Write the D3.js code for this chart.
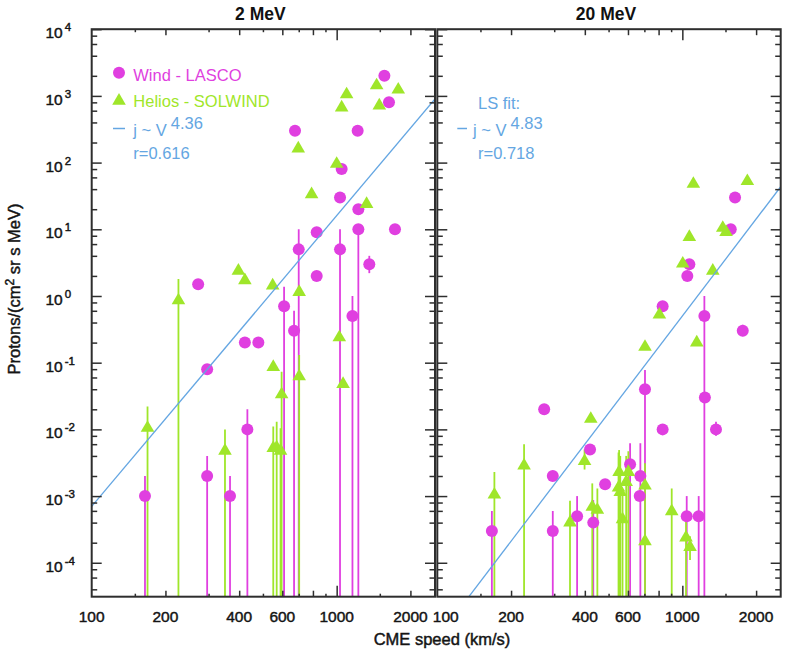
<!DOCTYPE html>
<html><head><meta charset="utf-8">
<script src="https://cdn.jsdelivr.net/npm/d3@7"></script>
<style>
body{margin:0;background:#fff}
svg{display:block}
text{font-family:"Liberation Sans",Arial,Helvetica,sans-serif;}
.blk{fill:#141414;stroke:#141414;stroke-width:0.45px;}
</style>
</head><body>
<svg id="chart" width="786" height="654"></svg>
<script>
// ---------------- DATA ----------------
const panelTitles = ["2 MeV", "20 MeV"];
const BOTTOM = 1e-6; // error bar extends below the plot floor

// 2 MeV, Wind - LASCO (circles)
const windV_2  = [165, 296, 367, 432, 296, 272, 422, 479, 610, 670, 676, 700, 829, 829, 1032, 1032, 1048, 1160, 1218, 1226, 1226, 1359, 1566, 1635, 1730];
const windJ_2  = [1e-3, 2e-3, 1e-3, 0.01, 0.08, 1.5, 0.2, 0.2, 0.7, 0.3, 300, 5, 9, 2, 5, 30, 80, 0.5, 300, 20, 10, 3, 2000, 800, 10];
const windLo_2 = [BOTTOM, BOTTOM, BOTTOM, BOTTOM, null, null, null, null, BOTTOM, BOTTOM, null, BOTTOM, null, null, BOTTOM, null, null, BOTTOM, null, null, BOTTOM, 2.2, null, null, null];
const windHi_2 = [2e-3, 4e-3, 2e-3, 0.02, null, null, null, null, 1.38, 0.6, null, 10, null, null, 10, null, null, 1.0, null, null, 10, 4, null, null, null];

// 2 MeV, Helios - SOLWIND (triangles)
const helV_2  = [169, 226, 350, 397, 422, 548, 551, 551, 569, 590, 596, 697, 703, 703, 790, 1000, 1025, 1048, 1062, 1098, 1325, 1456, 1493, 1784];
const helJ_2  = [0.011, 0.9, 0.005, 2.5, 1.8, 1.5, 0.09, 0.0055, 0.0056, 0.005, 0.035, 170, 1.2, 0.065, 35, 100, 0.25, 700, 0.05, 1100, 25, 1500, 750, 1300];
const helLo_2 = [BOTTOM, BOTTOM, BOTTOM, null, null, null, null, BOTTOM, BOTTOM, BOTTOM, BOTTOM, null, null, BOTTOM, null, null, null, null, null, null, null, null, null, null];
const helHi_2 = [0.022, 1.8, 0.01, null, null, null, null, 0.011, 0.013, 0.0104, 0.073, null, null, 0.13, null, null, null, null, null, null, null, null, null, null];

// 20 MeV, Wind - LASCO (circles)
const windV_20  = [167, 273, 296, 296, 372, 420, 433, 484, 612, 674, 670, 704, 831, 831, 1042, 1048, 1068, 1166, 1230, 1236, 1372, 1576, 1641, 1764];
const windJ_20  = [3e-4, 0.02, 0.002, 3e-4, 5e-4, 0.005, 4e-4, 0.0015, 0.003, 0.002, 0.001, 0.04, 0.7, 0.01, 5e-4, 2, 3, 5e-4, 0.5, 0.03, 0.01, 10, 30, 0.3];
const windLo_20 = [BOTTOM, null, null, BOTTOM, BOTTOM, null, BOTTOM, null, BOTTOM, BOTTOM, null, BOTTOM, null, null, BOTTOM, null, null, BOTTOM, BOTTOM, null, 0.008, null, null, 0.25];
const windHi_20 = [6e-4, null, null, 6e-4, 1e-3, null, 8.7e-4, null, 0.0062, 0.0062, null, 0.078, null, null, 1e-3, null, null, 1e-3, 1.0, null, 0.013, null, null, 0.37];

// 20 MeV, Helios - SOLWIND (triangles)
const helV_20  = [171, 226, 348, 399, 423, 429, 450, 549, 552, 558, 570, 590, 602, 704, 704, 704, 806, 905, 1004, 1035, 1068, 1075, 1109, 1145, 1331, 1462, 1508, 1842];
const helJ_20  = [0.0011, 0.003, 4.2e-4, 0.0035, 0.015, 7.2e-4, 6.5e-4, 0.0014, 0.0024, 0.0012, 4.7e-4, 0.0017, 0.0024, 0.0015, 2.2e-4, 0.18, 0.55, 6.2e-4, 3.2, 2.5e-4, 8, 1.8e-4, 50, 0.21, 2.5, 11, 9.5, 55];
const helLo_20 = [BOTTOM, BOTTOM, BOTTOM, 0.0025, null, BOTTOM, BOTTOM, BOTTOM, BOTTOM, BOTTOM, BOTTOM, BOTTOM, BOTTOM, BOTTOM, null, null, null, BOTTOM, null, BOTTOM, null, 1.1e-4, null, null, null, null, null, null];
const helHi_20 = [0.0023, 0.006, 8.5e-4, 0.005, null, 1.55e-3, 1.3e-3, 0.0045, 0.0049, 0.004, 0.0012, 0.004, 0.0047, 0.0031, null, null, null, 1.3e-3, null, 4.9e-4, null, 2.5e-4, null, null, null, null, null, null];

// Least-squares fits j = amp * (V/100)^exp
const fitAmp = [7.0e-4, 7.4e-6];
const fitExp = [4.36, 4.83];
const fitR   = ["0.616", "0.718"];

// Axis ticks
const xDomain = [100, 2520];
const yDomain = [3.1e-5, 1e4];
const xLabelTicks = [100, 200, 400, 600, 1000, 2000];
const xShortTicks = [150, 300, 500, 700, 900, 1500];
const xMediumTicks = [200, 400, 600, 800, 2000];
const xLongTicks = [1000];
const yExponents = [-4, -3, -2, -1, 0, 1, 2, 3, 4];
const yMinorMult = [2, 4, 6, 8];

// ---------------- STYLE / LAYOUT ----------------
const MAG = "#e03fe0", GRN = "#9fe62a", BLU = "#64a6e2", AX = "#2e2e2e";
const Y0 = 29.2, Y1 = 596.7;
const panelX = [[91.7, 435], [437.3, 780.7]];

const svg = d3.select("#chart");
const defs = svg.append("defs");

const panels = [
  {wind: [windV_2, windJ_2, windLo_2, windHi_2], hel: [helV_2, helJ_2, helLo_2, helHi_2]},
  {wind: [windV_20, windJ_20, windLo_20, windHi_20], hel: [helV_20, helJ_20, helLo_20, helHi_20]}
];

const y = d3.scaleLog().domain(yDomain).range([Y1, Y0]);
const yMajor = yExponents.map(e => Math.pow(10, e));
const yMinor = [];
for (let e = -5; e <= 3; e++) yMinorMult.forEach(m => { const v = m * Math.pow(10, e); if (v > yDomain[0] && v < yDomain[1]) yMinor.push(v); });

const triPath = "M0,-6.4L6.8,5.2L-6.8,5.2Z";

panels.forEach((p, pi) => {
  const [x0, x1] = panelX[pi];
  const x = d3.scaleLog().domain(xDomain).range([x0, x1]);
  const g = svg.append("g");

  defs.append("clipPath").attr("id", "clip" + pi)
    .append("rect").attr("x", x0).attr("y", Y0).attr("width", x1 - x0).attr("height", Y1 - Y0);

  const plot = g.append("g").attr("clip-path", `url(#clip${pi})`);

  // error bars
  function errBars(arr, color) {
    const [V, J, Lo, Hi] = arr;
    const idx = d3.range(V.length).filter(i => Lo[i] !== null || Hi[i] !== null);
    plot.append("g").selectAll("line").data(idx).join("line")
      .attr("x1", i => x(V[i])).attr("x2", i => x(V[i]))
      .attr("y1", i => y(Hi[i] !== null ? Hi[i] : J[i]))
      .attr("y2", i => y(Lo[i] !== null ? Lo[i] : J[i]))
      .attr("stroke", color).attr("stroke-width", 1.8);
  }
  errBars(p.wind, MAG);
  errBars(p.hel, GRN);

  // markers
  plot.append("g").selectAll("circle").data(d3.range(p.wind[0].length)).join("circle")
    .attr("cx", i => x(p.wind[0][i])).attr("cy", i => y(p.wind[1][i]))
    .attr("r", 6).attr("fill", MAG);
  plot.append("g").selectAll("path").data(d3.range(p.hel[0].length)).join("path")
    .attr("d", triPath)
    .attr("transform", i => `translate(${x(p.hel[0][i])},${y(p.hel[1][i])})`)
    .attr("fill", GRN);

  // fit line
  const fitV = xDomain;
  const line = d3.line().x(v => x(v)).y(v => y(fitAmp[pi] * Math.pow(v / 100, fitExp[pi])));
  plot.append("path").attr("d", line(fitV)).attr("fill", "none")
    .attr("stroke", BLU).attr("stroke-width", 1.3);

  // axes (ticks pointing inward)
  function axisG(axis, tx, ty) {
    const a = g.append("g").attr("transform", `translate(${tx},${ty})`).call(axis);
    a.select(".domain").remove();
    a.selectAll("line").attr("stroke", AX).attr("stroke-width", 1.5);
    a.selectAll("text").remove();
  }
  axisG(d3.axisLeft(y).tickValues(yMajor).tickSize(-10).tickFormat(""), x0, 0);
  axisG(d3.axisLeft(y).tickValues(yMinor).tickSize(-5.5).tickFormat(""), x0, 0);
  axisG(d3.axisRight(y).tickValues(yMajor).tickSize(-10).tickFormat(""), x1, 0);
  axisG(d3.axisRight(y).tickValues(yMinor).tickSize(-5.5).tickFormat(""), x1, 0);
  [[xLongTicks, 11], [xMediumTicks, 6], [xShortTicks, 3]].forEach(([tv, len]) => {
    axisG(d3.axisBottom(x).tickValues(tv).tickSize(-len).tickFormat(""), 0, Y1);
    axisG(d3.axisTop(x).tickValues(tv).tickSize(-len).tickFormat(""), 0, Y0);
  });

  // frame
  g.append("rect").attr("x", x0).attr("y", Y0).attr("width", x1 - x0).attr("height", Y1 - Y0)
    .attr("fill", "none").attr("stroke", AX).attr("stroke-width", 2);

  // x tick labels
  g.append("g").selectAll("text").data(xLabelTicks).join("text")
    .attr("class", "blk")
    .attr("x", (v, k) => x(v) + (pi === 1 && k === 0 ? 8.5 : 0))
    .attr("y", Y1 + 25.5).attr("text-anchor", "middle")
    .attr("font-size", 15.5)
    .text(v => v);

  // title
  g.append("text").attr("x", (x0 + x1) / 2 - 3).attr("y", 19.5).attr("text-anchor", "middle")
    .attr("font-size", 17.5).attr("font-weight", "bold").attr("fill", "#111").text(panelTitles[pi]);
});

// y tick labels (left panel)
const yl = svg.append("g");
yExponents.forEach(e => {
  const ty = y(Math.pow(10, e));
  const t = yl.append("text").attr("class", "blk").attr("x", 45.5).attr("y", ty + 9).attr("font-size", 15.5);
  t.append("tspan").text("10");
  t.append("tspan").attr("dx", 2).attr("dy", -7).attr("font-size", 11.5).text(e < 0 ? "-" + (-e) : String(e));
});

// axis titles
const ytitle = svg.append("text").attr("class", "blk").attr("transform", "translate(20,289) rotate(-90)")
  .attr("text-anchor", "middle").attr("font-size", 16.5);
ytitle.append("tspan").text("Protons/(cm");
ytitle.append("tspan").attr("dy", -6).attr("font-size", 12).text("2");
ytitle.append("tspan").attr("dy", 6).text(" sr s MeV)");

svg.append("text").attr("class", "blk").attr("x", 442).attr("y", 645).attr("text-anchor", "middle")
  .attr("font-size", 16.5).text("CME speed (km/s)");

// legends
const lg = svg.append("g").attr("font-size", 16.5);
lg.append("circle").attr("cx", 119).attr("cy", 72.7).attr("r", 6).attr("fill", MAG);
lg.append("text").attr("x", 133.3).attr("y", 80.5).attr("fill", MAG).text("Wind - LASCO");
lg.append("path").attr("d", triPath).attr("transform", "translate(119,99.5)").attr("fill", GRN);
lg.append("text").attr("x", 133.3).attr("y", 107).attr("fill", GRN).text("Helios - SOLWIND");

function fitLegend(dx0, dx1, tx, exp, r, withTitle) {
  if (withTitle) lg.append("text").attr("x", tx + 5).attr("y", 108.5).attr("fill", BLU).text("LS fit:");
  lg.append("line").attr("x1", dx0).attr("x2", dx1).attr("y1", 128.5).attr("y2", 128.5)
    .attr("stroke", BLU).attr("stroke-width", 1.5);
  const t = lg.append("text").attr("x", tx).attr("y", 135.5).attr("fill", BLU);
  t.append("tspan").text("j ~ V");
  t.append("tspan").attr("dx", 4).attr("dy", -7).text(exp);
  lg.append("text").attr("x", tx + (withTitle ? 5 : 0)).attr("y", 159).attr("fill", BLU).text("r=" + r);
}
fitLegend(113, 125, 133.3, fitExp[0].toFixed(2), fitR[0], false);
fitLegend(457.3, 467, 473, fitExp[1].toFixed(2), fitR[1], true);
</script>
</body></html>
